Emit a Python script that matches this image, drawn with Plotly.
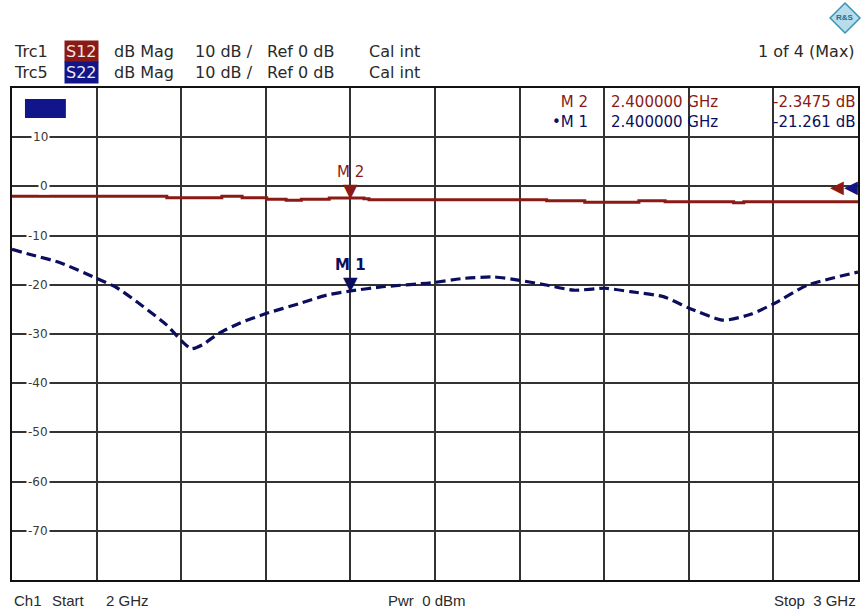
import plotly.graph_objects as go

# ---------------- data ----------------
s12_freq_ghz = [2.000, 2.163, 2.183, 2.248, 2.272, 2.301, 2.324, 2.342, 2.375, 2.400,
                2.416, 2.422, 2.600, 2.632, 2.677, 2.741, 2.772, 2.853, 2.865, 3.000]
s12_db = [-2.0, -2.0, -2.3, -2.0, -2.3, -2.6, -2.8, -2.6, -2.35, -2.35,
          -2.5, -2.7, -2.7, -2.9, -3.2, -2.9, -3.1, -3.3, -3.1, -3.1]

s22_freq_ghz = [2.000, 2.025, 2.057, 2.100, 2.124, 2.155, 2.183, 2.201, 2.212, 2.225,
                2.245, 2.269, 2.301, 2.340, 2.372, 2.400, 2.438, 2.495, 2.534, 2.570,
                2.600, 2.633, 2.664, 2.701, 2.731, 2.770, 2.801, 2.841, 2.873, 2.901,
                2.940, 3.000]
s22_db = [-12.8, -14.0, -15.5, -18.7, -20.6, -24.4, -28.2, -31.5, -33.0, -32.2,
          -29.8, -27.8, -25.8, -23.8, -22.1, -21.26, -20.4, -19.6, -18.7, -18.4,
          -19.1, -20.1, -21.1, -20.7, -21.4, -22.4, -24.8, -27.2, -26.0, -23.8,
          -20.1, -17.4]

marker_names = ["M 2", "M 1"]
marker_freq_ghz = [2.4, 2.4]
marker_db = [-2.3475, -21.261]

y_ticks = [10, 0, -10, -20, -30, -40, -50, -60, -70]
ref_level_db = 0

RED = "#8A1A16"
BLUE = "#0B0E5C"
BLUE_BOX = "#10168A"
TXT = "#2A2A2A"
FONT = "DejaVu Sans"

# -------------- layout helpers (pixel -> paper) --------------
L, R, T, B = 12, 860, 88, 580
def px(x):
    return (x - L) / (R - L)
def py(y):
    return (B - y) / (B - T)

fig = go.Figure()

fig.add_trace(go.Scatter(x=s12_freq_ghz, y=s12_db, mode="lines",
                         line=dict(color=RED, width=3, shape="hv"),
                         hoverinfo="skip", showlegend=False))
fig.add_trace(go.Scatter(x=s22_freq_ghz, y=s22_db, mode="lines",
                         line=dict(color=BLUE, width=3.2, dash="10px,5px", shape="spline", smoothing=0.6),
                         hoverinfo="skip", showlegend=False))

ann = []
# y tick labels inside plot
for v in y_ticks:
    ann.append(dict(x=px(50), xref="paper", y=v, yref="y", text=str(v), showarrow=False,
                    xanchor="right", yanchor="middle", bgcolor="white", borderpad=1,
                    font=dict(family=FONT, size=12, color="#3A3A3A")))

# marker triangles and labels
mcolors = [RED, BLUE]
for name, f, d, c, bold in zip(marker_names, marker_freq_ghz, marker_db, mcolors, [False, True]):
    ann.append(dict(x=f, y=d, xref="x", yref="y", text="▼", showarrow=False,
                    xanchor="center", yanchor="bottom", yshift=-5,
                    font=dict(family="DejaVu Sans", size=19, color=c)))
    ann.append(dict(x=f, y=d, xref="x", yref="y",
                    text=("<b>%s</b>" % name) if bold else name, showarrow=False,
                    xanchor="center", yanchor="bottom", yshift=15,
                    font=dict(family=FONT, size=15, color=c)))

# reference level arrows on the right
ann.append(dict(x=px(848), xref="paper", y=ref_level_db, yref="y", text="◀", showarrow=False,
                xanchor="right", yanchor="middle",
                font=dict(family="DejaVu Sans", size=18, color=RED)))
ann.append(dict(x=px(862), xref="paper", y=ref_level_db, yref="y", text="◀", showarrow=False,
                xanchor="right", yanchor="middle",
                font=dict(family="DejaVu Sans", size=18, color=BLUE_BOX)))

# marker readout, top right: three columns, two coloured rows each
def two_rows(a, b):
    return '<span style="color:%s">%s</span><br><span style="color:%s">%s</span>' % (RED, a, BLUE, b)

col_names = two_rows("M 2", "•M 1")
col_freqs = two_rows("%.6f GHz" % marker_freq_ghz[0], "%.6f GHz" % marker_freq_ghz[1])
col_vals = two_rows("%.4f dB" % marker_db[0], "%.3f dB" % marker_db[1])
for txt, xx, anc in [(col_names, 591, "right"), (col_freqs, 610, "left"), (col_vals, 859, "right")]:
    ann.append(dict(x=px(xx), xref="paper", y=py(112), yref="paper", text=txt, showarrow=False,
                    xanchor=anc, yanchor="middle", align=anc,
                    font=dict(family=FONT, size=15, color=RED)))

# header text
hdr_font = dict(family=FONT, size=16, color=TXT)
header_rows = [("Trc1", "S12", RED, 52), ("Trc5", "S22", BLUE_BOX, 72)]
for trc, sp, col, yy in header_rows:
    ann.append(dict(x=px(12), xref="paper", y=py(yy), yref="paper", text=trc, showarrow=False,
                    xanchor="left", yanchor="middle", font=hdr_font))
    ann.append(dict(x=px(82), xref="paper", y=py(yy), yref="paper", text=sp, showarrow=False,
                    xanchor="center", yanchor="middle", bgcolor=col, borderpad=1,
                    font=dict(family=FONT, size=16, color="#F2E6E6")))
    for txt, xx in [("dB Mag", 112), ("10 dB /", 193), ("Ref 0 dB", 266), ("Cal int", 368)]:
        ann.append(dict(x=px(xx), xref="paper", y=py(yy), yref="paper", text=txt, showarrow=False,
                        xanchor="left", yanchor="middle", font=hdr_font))
ann.append(dict(x=px(859), xref="paper", y=py(52), yref="paper", text="1 of 4 (Max)", showarrow=False,
                xanchor="right", yanchor="middle", font=hdr_font))

# footer text
ftr_font = dict(family="Liberation Sans", size=15, color=TXT)
for txt, xx, anc in [("Ch1", 12, "left"), ("Start", 50, "left"), ("2 GHz", 104, "left"),
                     ("Pwr  0 dBm", 387, "left"), ("Stop  3 GHz", 860, "right")]:
    ann.append(dict(x=px(xx), xref="paper", y=py(600), yref="paper", text=txt, showarrow=False,
                    xanchor=anc, yanchor="middle", font=ftr_font))

# R&S logo text
ann.append(dict(x=px(847), xref="paper", y=py(18), yref="paper", text="<b>R&amp;S</b>", showarrow=False,
                xanchor="center", yanchor="middle", font=dict(family="Liberation Sans", size=8, color="#1F6F96")))

shapes = [
    # blue legend box
    dict(type="rect", xref="paper", yref="paper", x0=px(25), x1=px(66), y0=py(118), y1=py(99),
         fillcolor=BLUE_BOX, line=dict(width=0), layer="above"),
    # R&S diamond
    dict(type="path", xref="paper", yref="paper",
         path="M %f,%f L %f,%f L %f,%f L %f,%f Z" % (px(847), py(3), px(862), py(18), px(847), py(33), px(832), py(18)),
         fillcolor="#B7DCEA", line=dict(color="#3B92B8", width=1.5), layer="above"),
]

fig.update_layout(
    width=864, height=615,
    margin=dict(l=L, r=864 - R, t=T, b=615 - B),
    paper_bgcolor="white", plot_bgcolor="white",
    showlegend=False,
    annotations=ann, shapes=shapes,
    xaxis=dict(range=[2, 3], dtick=0.1, tick0=2, showgrid=True, gridcolor="#333333", gridwidth=1.6,
               showticklabels=False, ticks="", zeroline=False,
               showline=True, mirror=True, linecolor="#111111", linewidth=2, fixedrange=True),
    yaxis=dict(range=[-80, 20], dtick=10, tick0=0, showgrid=True, gridcolor="#333333", gridwidth=1.6,
               showticklabels=False, ticks="", zeroline=False,
               showline=True, mirror=True, linecolor="#111111", linewidth=2, fixedrange=True),
)

fig.write_html("out.html")
